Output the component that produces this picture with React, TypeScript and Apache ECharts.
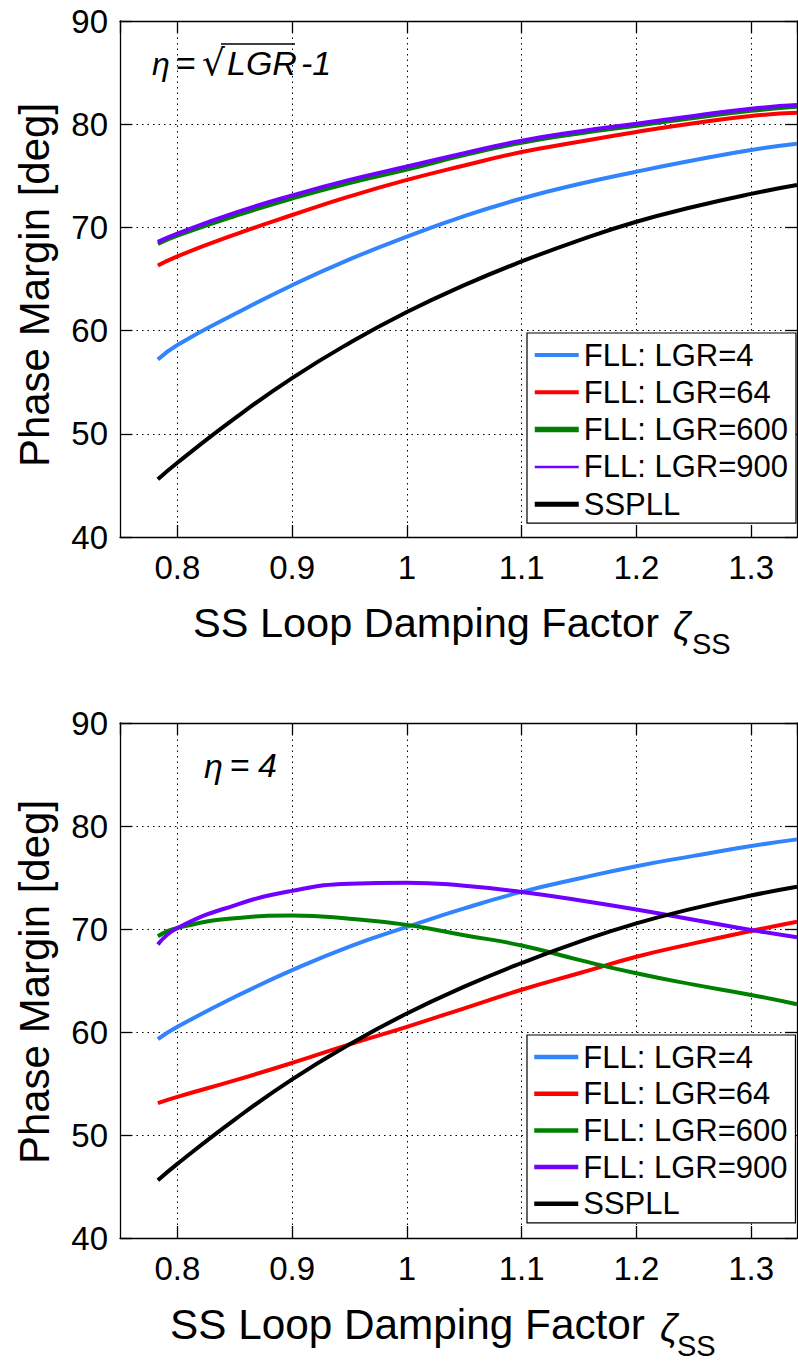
import React, { useEffect, useRef } from "react";
import * as echarts from "echarts";

const X = [0.783, 0.8, 0.85, 0.9, 0.95, 1.0, 1.05, 1.1, 1.15, 1.2, 1.25, 1.3, 1.34];

const NAMES = ["FLL: LGR=4", "FLL: LGR=64", "FLL: LGR=600", "FLL: LGR=900", "SSPLL"];
const COLORS = ["#3283fe", "#ff0000", "#008000", "#7000ff", "#000000"];

// top panel: eta = sqrt(LGR) - 1
const topLGR4 = [57.2, 58.6, 61.6, 64.4, 66.9, 69.1, 71.1, 72.8, 74.2, 75.4, 76.5, 77.5, 78.1];
const topLGR64 = [66.3, 67.2, 69.3, 71.2, 73.0, 74.6, 76.0, 77.3, 78.3, 79.25, 80.1, 80.8, 81.1];
const topLGR600 = [68.4, 69.2, 71.1, 72.8, 74.3, 75.6, 77.0, 78.2, 79.1, 79.85, 80.6, 81.3, 81.7];
const topLGR900 = [68.6, 69.4, 71.4, 73.1, 74.6, 75.9, 77.2, 78.4, 79.3, 80.05, 80.8, 81.5, 81.85];
const sspll = [45.6, 47.2, 51.5, 55.4, 58.8, 61.8, 64.4, 66.7, 68.75, 70.55, 72.0, 73.25, 74.1];

// bottom panel: eta = 4
const botLGR4 = [59.3, 60.5, 63.4, 66.0, 68.3, 70.2, 72.0, 73.6, 74.9, 76.1, 77.1, 78.05, 78.7];
const botLGR64 = [53.1, 53.7, 55.3, 57.0, 58.8, 60.5, 62.3, 64.1, 65.7, 67.3, 68.6, 69.8, 70.7];
const botLGR600 = [69.3, 70.1, 71.05, 71.3, 71.0, 70.4, 69.4, 68.4, 67.0, 65.7, 64.6, 63.6, 62.7];
const botLGR900 = [68.5, 70.1, 72.3, 73.7, 74.4, 74.5, 74.2, 73.6, 72.8, 71.9, 70.9, 69.9, 69.2];

const TOP_SETS = [topLGR4, topLGR64, topLGR600, topLGR900, sspll];
const BOT_SETS = [botLGR4, botLGR64, botLGR600, botLGR900, sspll];

const Y_MIN = 40;
const Y_MAX = 90;
const X_MIN = 0.75;
const X_MAX = 1.34;

const FONT = "Liberation Sans, Arial, sans-serif";

export default function App() {
  const ref = useRef<HTMLDivElement>(null);
  useEffect(() => {
    if (!ref.current) return;
    const chart = echarts.init(ref.current, undefined, { renderer: "svg" });

    const grids = [
      { left: 120, right: 1, top: 21, height: 516 },
      { left: 120, right: 1, top: 723, height: 515 },
    ];

    const axisLine = { show: true, onZero: false, lineStyle: { color: "#000", width: 1.3 } };
    const axisTick = { show: true, inside: true, length: 12, lineStyle: { color: "#000", width: 1.3 } };
    const grid = { show: true, lineStyle: { color: "#000", type: [1.5, 4], width: 1 } };

    const xAxes: any[] = [];
    const yAxes: any[] = [];
    [0, 1].forEach((g) => {
      xAxes.push({
        type: "value",
        gridIndex: g,
        min: X_MIN,
        max: X_MAX,
        splitNumber: 5,
        position: "bottom",
        axisLine,
        axisTick,
        axisLabel: {
          show: true,
          showMinLabel: false,
          showMaxLabel: false,
          color: "#000",
          fontSize: 33,
          fontFamily: FONT,
          margin: 14,
          formatter: (v: number) => String(Math.round(v * 10) / 10),
        },
        splitLine: grid,
      });
      xAxes.push({
        type: "value",
        gridIndex: g,
        min: X_MIN,
        max: X_MAX,
        splitNumber: 5,
        position: "top",
        axisLine,
        axisTick,
        axisLabel: { show: false },
        splitLine: { show: false },
      });
      yAxes.push({
        type: "value",
        gridIndex: g,
        min: Y_MIN,
        max: Y_MAX,
        interval: 10,
        position: "left",
        axisLine,
        axisTick,
        axisLabel: { color: "#000", fontSize: 33, fontFamily: FONT, margin: 12 },
        splitLine: grid,
      });
      yAxes.push({
        type: "value",
        gridIndex: g,
        min: Y_MIN,
        max: Y_MAX,
        interval: 10,
        position: "right",
        axisLine,
        axisTick,
        axisLabel: { show: false },
        splitLine: { show: false },
      });
    });

    const series: any[] = [];
    [TOP_SETS, BOT_SETS].forEach((sets, g) => {
      sets.forEach((vals, i) => {
        series.push({
          type: "line",
          name: NAMES[i],
          xAxisIndex: g * 2,
          yAxisIndex: g * 2,
          data: X.map((x, k) => [x, vals[k]]),
          smooth: true,
          symbol: "none",
          color: COLORS[i],
          lineStyle: { color: COLORS[i], width: 4 },
          z: 3 + i,
        });
      });
    });

    const topLegendWidths = [4, 4, 5.5, 2.5, 5];
    const botLegendWidths = [4.5, 4.5, 4.5, 4.5, 4.5];
    const mkLegend = (top: number, widths: number[], gap: number) => ({
      orient: "vertical",
      left: 527,
      top,
      itemWidth: 44,
      itemHeight: 14,
      itemGap: gap,
      padding: [6, 8, 3, 5],
      backgroundColor: "#fff",
      borderColor: "#000",
      borderWidth: 1.2,
      borderRadius: 0,
      selectedMode: false,
      textStyle: { color: "#000", fontSize: 31, fontFamily: FONT, lineHeight: 32 },
      data: NAMES.map((n, i) => ({
        name: n,
        itemStyle: { color: "rgba(0,0,0,0)", borderWidth: 0, opacity: 0 },
        lineStyle: { color: COLORS[i], width: widths[i], opacity: 1 },
      })),
    });

    const ytitle = (y: number) => ({
      type: "text",
      x: 34,
      y,
      rotation: Math.PI / 2,
      style: {
        text: "Phase Margin [deg]",
        fontSize: 42,
        fontFamily: FONT,
        fill: "#000",
        align: "center",
        verticalAlign: "middle",
      },
    });

    const xtitle = (x: number, y: number, fs: number, zx: number, sx: number) => ({
      type: "group",
      children: [
        {
          type: "text",
          x,
          y,
          style: { text: "SS Loop Damping Factor", fontSize: fs, fontFamily: FONT, fill: "#000", align: "left", verticalAlign: "middle" },
        },
        {
          type: "text",
          x: zx,
          y: y + 4,
          style: { text: "ζ", fontSize: 38, fontStyle: "italic", fontFamily: FONT, fill: "#000", align: "left", verticalAlign: "middle" },
        },
        {
          type: "text",
          x: sx,
          y: y + 22,
          style: { text: "SS", fontSize: 29, fontFamily: FONT, fill: "#000", align: "left", verticalAlign: "middle" },
        },
      ],
    });

    const it = { fontSize: 32, fontStyle: "italic", fontFamily: FONT, fill: "#000", align: "left", verticalAlign: "middle" };
    const etaTop = {
      type: "group",
      children: [
        { type: "text", x: 152, y: 64, style: { ...it, text: "η" } },
        { type: "text", x: 176, y: 63, style: { ...it, fontStyle: "normal", fontSize: 34, text: "=" } },
        { type: "text", x: 202, y: 62, style: { ...it, fontStyle: "normal", fontSize: 36, fontFamily: "DejaVu Sans", text: "√" } },
        { type: "text", x: 227, y: 63, style: { ...it, fontSize: 34, text: "LGR" } },
        { type: "text", x: 301, y: 63, style: { ...it, fontSize: 34, text: "-1" } },
        { type: "line", shape: { x1: 221, y1: 44, x2: 295, y2: 44 }, style: { stroke: "#000", lineWidth: 1.6 } },
      ],
    };
    const etaBot = {
      type: "group",
      children: [
        { type: "text", x: 204, y: 766, style: { ...it, fontSize: 34, text: "η" } },
        { type: "text", x: 230, y: 765, style: { ...it, fontStyle: "normal", fontSize: 34, text: "=" } },
        { type: "text", x: 258, y: 765, style: { ...it, fontSize: 34, text: "4" } },
      ],
    };

    chart.setOption({
      animation: false,
      backgroundColor: "#fff",
      textStyle: { fontFamily: FONT },
      grid: grids,
      xAxis: xAxes,
      yAxis: yAxes,
      series,
      legend: [mkLegend(333, topLegendWidths, 5.3), mkLegend(1035, botLegendWidths, 4.7)],
      graphic: [
        ytitle(285),
        ytitle(982),
        xtitle(193, 622, 41.5, 673, 692),
        xtitle(170, 1324, 42.3, 660, 677),
        etaTop,
        etaBot,
      ],
    });

    return () => chart.dispose();
  }, []);

  return (
    <div
      ref={ref}
      style={{ position: "absolute", left: 0, top: 0, width: 798, height: 1362, background: "#fff" }}
    />
  );
}
